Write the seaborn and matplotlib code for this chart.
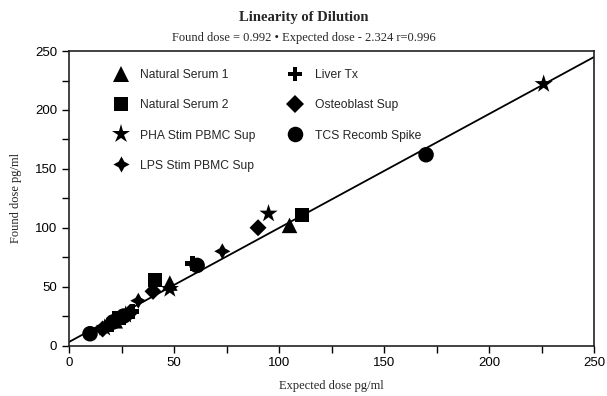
import pandas as pd
import seaborn as sns
import matplotlib.pyplot as plt
from matplotlib.ticker import MultipleLocator

# sample groups and values (expected, found) in pg/ml
groups = ["Natural Serum 1", "Natural Serum 2", "PHA Stim PBMC Sup", "LPS Stim PBMC Sup",
          "Liver Tx", "Osteoblast Sup", "TCS Recomb Spike"]
markers = ["^", "s", "*", (4, 1, 0), "P", "D", "o"]
marker_area = [125, 100, 190, 135, 115, 75, 125]

ns1_x = [22, 48, 105]
ns1_y = [21, 53, 102]
ns2_x = [24, 41, 111]
ns2_y = [23, 56, 111]
pha_x = [17, 27, 48, 95, 226]
pha_y = [15, 26, 48, 112, 222]
lps_x = [18, 25, 33, 73]
lps_y = [17, 24, 38, 80]
liver_x = [20, 30, 59]
liver_y = [18, 29, 70]
osteo_x = [16, 29, 40, 90]
osteo_y = [14, 28, 46, 100]
tcs_x = [10, 21, 26, 61, 170]
tcs_y = [10, 20, 25, 68, 162]

# regression line end points as drawn
line_x = [0, 250]
line_y = [3, 245]

xs = [ns1_x, ns2_x, pha_x, lps_x, liver_x, osteo_x, tcs_x]
ys = [ns1_y, ns2_y, pha_y, lps_y, liver_y, osteo_y, tcs_y]
rows = []
for g, gx, gy in zip(groups, xs, ys):
    for a, b in zip(gx, gy):
        rows.append({"group": g, "expected": a, "found": b})
df = pd.DataFrame(rows)

sns.set_style("ticks")
plt.rcParams["font.family"] = ["Liberation Sans", "DejaVu Sans"]

fig = plt.figure(figsize=(6.07, 3.96), dpi=100)
ax = fig.add_axes([0.1137, 0.1275, 0.865, 0.7435])

ax.plot(line_x, line_y, color="black", lw=1.3, zorder=1)
sns.scatterplot(data=df, x="expected", y="found", style="group", style_order=groups,
                size="group", size_order=groups, sizes=dict(zip(groups, marker_area)),
                markers=dict(zip(groups, markers)), color="black",
                edgecolor="none", linewidth=0, ax=ax, zorder=3)

ax.set_xlim(0, 250)
ax.set_ylim(0, 250)
ax.xaxis.set_major_locator(MultipleLocator(50))
ax.xaxis.set_minor_locator(MultipleLocator(25))
ax.yaxis.set_major_locator(MultipleLocator(50))
ax.yaxis.set_minor_locator(MultipleLocator(25))
ax.tick_params(which="both", direction="out", length=5, width=1, labelsize=9.5, colors="black")
for sp in ax.spines.values():
    sp.set_linewidth(1.2)
    sp.set_color("#222222")

serif = ["Liberation Serif", "DejaVu Serif"]
ax.set_xlabel("Expected dose pg/ml", family=serif, fontsize=9, labelpad=8)
ax.set_ylabel("Found dose pg/ml", family=serif, fontsize=9, labelpad=9)

fig.text(0.5, 0.955, "Linearity of Dilution", ha="center", va="center",
         family=serif, fontsize=10.5, fontweight="bold")
fig.text(0.5, 0.905, "Found dose = 0.992 \u2022 Expected dose - 2.324 r=0.996", ha="center",
         va="center", family=serif, fontsize=9)

handles, labels = ax.get_legend_handles_labels()
ax.legend(handles, labels, ncol=2, frameon=False, loc="upper left",
          bbox_to_anchor=(0.055, 0.975), fontsize=8.7, labelspacing=1.5,
          columnspacing=2.3, handletextpad=0.6, markerscale=1.0)

plt.savefig("out.png", dpi=100)
